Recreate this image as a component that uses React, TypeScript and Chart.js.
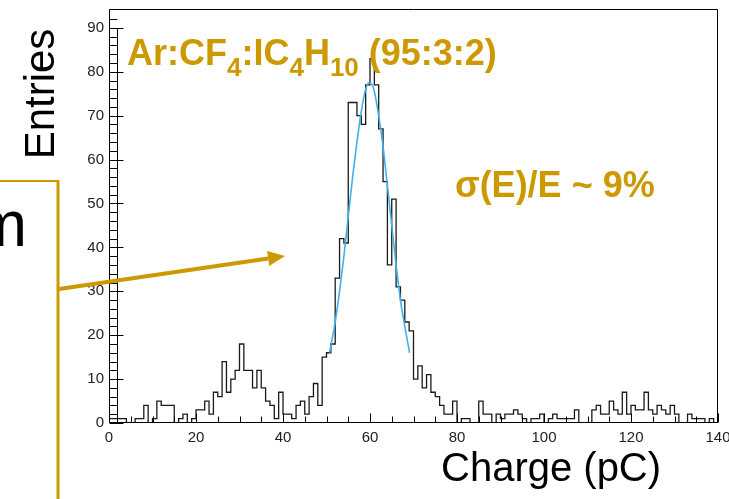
import React, { useEffect, useRef } from 'react';
import { Chart, registerables } from 'chart.js';

Chart.register(...registerables);

// ---- data ----
// histogram: 140 bins of width 1 pC, from 0 to 140
const binCounts = [
  1, 1, 1, 1, 0, 0, 1, 1, 4, 0,
  1, 5, 4, 4, 4, 0, 1, 2, 0, 1,
  3, 3, 5, 2, 7, 6, 14, 7, 10, 12,
  18, 12, 12, 8, 12, 8, 5, 4, 1, 7,
  2, 2, 1, 4, 5, 2, 6, 9, 4, 15,
  16, 18, 33, 42, 41, 73, 73, 70, 68, 77,
  83, 77, 67, 55, 36, 51, 31, 28, 23, 21,
  10, 13, 8, 11, 7, 6, 4, 2, 2, 5,
  0, 1, 1, 0, 0, 5, 2, 2, 0, 2,
  1, 2, 2, 3, 2, 1, 0, 1, 1, 2,
  0, 1, 2, 1, 1, 1, 1, 3, 0, 0,
  0, 3, 4, 2, 2, 5, 3, 2, 7, 2,
  4, 3, 3, 7, 3, 2, 4, 3, 2, 4,
  2, 0, 0, 2, 1, 1, 1, 0, 1, 0,
];
const binLow = 0;
const binWidth = 1;

// fitted gaussian curve
const fitX = [50.7, 52, 53, 54, 55, 56, 57, 58, 59, 59.7, 60.5, 61, 62, 63, 64, 65, 66, 67, 68, 69.1];
const fitY = [16, 23, 30, 38, 47, 56, 64, 71, 76, 77.5, 77, 75.5, 70, 63, 54, 45, 36, 28, 22, 16];

const xMin = 0;
const xMax = 140;
const xLabelStep = 20;
const xMinorStep = 5;
const xMajorTicks = [0, 20, 40, 60, 80, 100, 120, 140];
const yMin = 0;
const yMax = 94.3;
const yLabelStep = 10;
const yMinorStep = 2;
const yLadderTop = 92;

const xTitle = 'Charge (pC)';
const yTitle = 'Entries';
const gasTitleParts = [
  { t: 'Ar:CF', sub: false },
  { t: '4', sub: true },
  { t: ':IC', sub: false },
  { t: '4', sub: true },
  { t: 'H', sub: false },
  { t: '10', sub: true },
  { t: ' (95:3:2)', sub: false },
];
const resolutionText = 'σ(E)/E ~ 9%';
const cutWord = 'm';

const GOLD = '#CC9900';
const FONT = "'Liberation Sans', Arial, Helvetica, sans-serif";

const decorPlugin = {
  id: 'decor',
  afterDatasetsDraw(chart: any) {
    const { ctx, chartArea: a, scales } = chart;
    const x = scales.x;
    const y = scales.y;
    ctx.save();
    ctx.strokeStyle = '#000';
    ctx.lineWidth = 1;
    const L = Math.round(a.left) + 0.5;
    const R = Math.round(a.right) - 0.5;
    const T = Math.round(a.top) + 0.5;
    const B = Math.round(a.bottom) - 0.5;
    // frame
    ctx.beginPath();
    ctx.moveTo(L, T);
    ctx.lineTo(R, T);
    ctx.lineTo(R, B);
    ctx.lineTo(L, B);
    ctx.closePath();
    ctx.stroke();
    // x ticks (inside)
    ctx.beginPath();
    for (let v = xMin; v <= xMax; v += xMinorStep) {
      const px = Math.round(x.getPixelForValue(v)) + 0.5;
      const len = xMajorTicks.includes(v) ? 9 : 6;
      ctx.moveTo(px, B);
      ctx.lineTo(px, B - len);
    }
    ctx.stroke();
    // y ladder
    const ladderX = L + 8;
    ctx.beginPath();
    ctx.moveTo(ladderX, Math.round(y.getPixelForValue(90)) + 0.5);
    ctx.lineTo(ladderX, B);
    for (let v = yMin; v <= yLadderTop; v += yMinorStep) {
      const py = Math.round(y.getPixelForValue(v)) + 0.5;
      const len = v % yLabelStep === 0 ? 14 : 8;
      ctx.moveTo(L, py);
      ctx.lineTo(L + len, py);
    }
    ctx.stroke();
    ctx.restore();
  },
  afterDraw(chart: any) {
    const { ctx } = chart;
    ctx.save();
    // golden box lines
    ctx.strokeStyle = GOLD;
    ctx.lineWidth = 2;
    ctx.beginPath();
    ctx.moveTo(0, 181);
    ctx.lineTo(59, 181);
    ctx.stroke();
    ctx.lineWidth = 3;
    ctx.beginPath();
    ctx.moveTo(58, 180);
    ctx.lineTo(58, 499);
    ctx.stroke();
    // arrow
    const x0 = 59, y0 = 289, x1 = 285, y1 = 256;
    const dx = x1 - x0, dy = y1 - y0;
    const len = Math.hypot(dx, dy);
    const ux = dx / len, uy = dy / len;
    const hl = 17, hw = 7.5;
    ctx.lineWidth = 4;
    ctx.beginPath();
    ctx.moveTo(x0, y0);
    ctx.lineTo(x1 - ux * hl, y1 - uy * hl);
    ctx.stroke();
    ctx.fillStyle = GOLD;
    ctx.beginPath();
    ctx.moveTo(x1, y1);
    ctx.lineTo(x1 - ux * hl - uy * hw, y1 - uy * hl + ux * hw);
    ctx.lineTo(x1 - ux * hl + uy * hw, y1 - uy * hl - ux * hw);
    ctx.closePath();
    ctx.fill();

    // gas mixture title
    let cx = 127;
    for (const p of gasTitleParts) {
      ctx.font = p.sub ? `bold 26px ${FONT}` : `bold 36px ${FONT}`;
      ctx.textAlign = 'left';
      ctx.textBaseline = 'alphabetic';
      ctx.fillText(p.t, cx, p.sub ? 76 : 65);
      cx += ctx.measureText(p.t).width;
    }
    // resolution text
    ctx.font = `bold 36px ${FONT}`;
    ctx.fillText(resolutionText, 455, 197);

    // axis titles
    ctx.fillStyle = '#000';
    ctx.font = `40px ${FONT}`;
    ctx.textAlign = 'left';
    ctx.fillText(xTitle, 441, 481);
    ctx.save();
    ctx.translate(54, 94);
    ctx.rotate(-Math.PI / 2);
    ctx.font = `42px ${FONT}`;
    ctx.textAlign = 'center';
    ctx.fillText(yTitle, 0, 0);
    ctx.restore();
    // cut word from the slide's text box
    ctx.font = `64px ${FONT}`;
    ctx.textAlign = 'right';
    ctx.fillText(cutWord, 27, 246);
    ctx.restore();
  },
};

export default function App() {
  const ref = useRef<HTMLCanvasElement | null>(null);
  useEffect(() => {
    if (!ref.current) return;
    const histData = binCounts.map((c, i) => ({ x: binLow + i * binWidth, y: c }));
    histData.push({ x: binLow + binCounts.length * binWidth, y: binCounts[binCounts.length - 1] });
    const fitData = fitX.map((v, i) => ({ x: v, y: fitY[i] }));
    const chart = new Chart(ref.current, {
      type: 'scatter',
      data: {
        datasets: [
          {
            label: 'fit',
            data: fitData,
            showLine: true,
            borderColor: '#3fb0f0',
            borderWidth: 1.6,
            pointRadius: 0,
            cubicInterpolationMode: 'monotone',
          },
          {
            label: 'hist',
            data: histData,
            showLine: true,
            stepped: 'before',
            borderColor: '#1a1a1a',
            borderWidth: 1.3,
            pointRadius: 0,
          },
        ],
      },
      options: {
        responsive: false,
        maintainAspectRatio: false,
        animation: false,
        devicePixelRatio: 1,
        layout: { padding: { left: 0, right: 11, top: 9, bottom: 0 } },
        plugins: { legend: { display: false }, tooltip: { enabled: false } },
        scales: {
          x: {
            type: 'linear',
            min: xMin,
            max: xMax,
            grid: { display: false, drawTicks: false },
            border: { display: false },
            ticks: {
              stepSize: xLabelStep,
              autoSkip: false,
              maxRotation: 0,
              padding: 6,
              color: '#222',
              font: { family: FONT, size: 15 },
            },
            afterFit: (s: any) => {
              s.height = 76;
              s.paddingLeft = 0;
              s.paddingRight = 0;
            },
          },
          y: {
            type: 'linear',
            min: yMin,
            max: yMax,
            grid: { display: false, drawTicks: false },
            border: { display: false },
            ticks: {
              stepSize: yLabelStep,
              includeBounds: false,
              autoSkip: false,
              padding: 5,
              color: '#222',
              font: { family: FONT, size: 15 },
            },
            afterFit: (s: any) => {
              s.width = 109;
              s.paddingTop = 0;
              s.paddingBottom = 0;
            },
          },
        },
      } as any,
      plugins: [decorPlugin],
    });
    return () => chart.destroy();
  }, []);
  return (
    <div style={{ position: 'absolute', left: 0, top: 0, width: 729, height: 499, background: '#fff' }}>
      <canvas ref={ref} width={729} height={499} style={{ width: 729, height: 499, display: 'block' }} />
    </div>
  );
}
